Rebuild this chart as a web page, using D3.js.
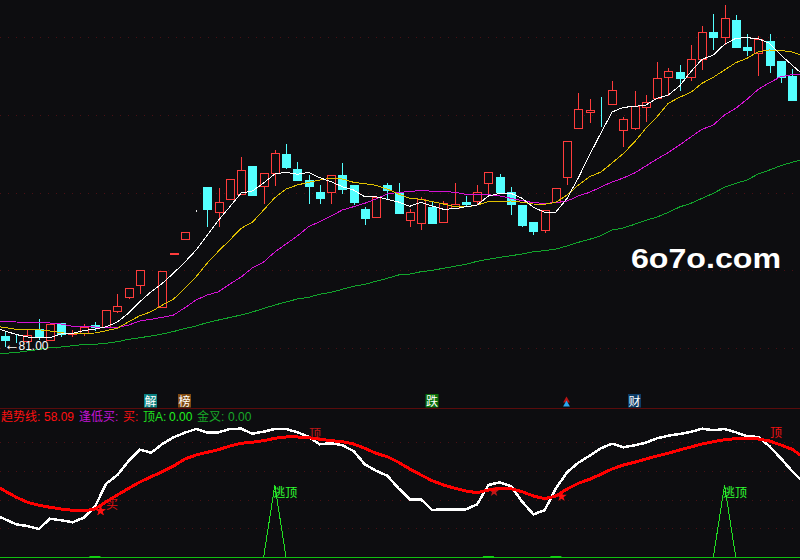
<!DOCTYPE html>
<html>
<head>
<meta charset="utf-8">
<script src="https://cdn.jsdelivr.net/npm/d3@7"></script>
<style>
  html, body { margin: 0; padding: 0; background: #0d0d10; }
  svg { display: block; }
  text { font-family: "Liberation Sans", "Noto Sans CJK SC", sans-serif; }
</style>
</head>
<body>
<svg id="chart"></svg>
<script>
// candle values, one entry per session
const open = [
  82.1, 81.85, 81.6, 82.8, 81.7, 83.4, 82.3, 82.4, 83.2, 83.0,
  84.6, 86.0, 87.2, 86.8, 85.0, 90.35, 91.8, 94.7, 97.0, 94.5,
  95.8, 96.3, 99.1, 97.1, 98.4, 100.3, 98.8, 97.7, 96.5, 96.5,
  98.2, 97.2, 94.8, 94.0, 97.2, 96.4, 93.7, 93.4, 95.0, 93.5,
  94.9, 95.5, 95.6, 97.4, 98.0, 96.5, 95.2, 93.5, 92.7, 95.5,
  98.0, 102.9, 104.5, 105.2, 105.3, 102.7, 102.9, 105.0, 105.9, 108.0,
  108.5, 108.0, 109.8, 112.5, 112.0, 113.7, 111.0, 110.4, 111.6, 109.6,
  108.1
];
const close = [
  81.7, 81.8, 82.2, 82.1, 83.3, 82.3, 82.4, 83.0, 83.0, 84.7,
  85.1, 86.9, 88.7, 86.8, 88.6, 90.45, 92.5, 94.7, 94.8, 95.5,
  97.8, 98.7, 96.2, 98.4, 100.4, 99.0, 97.7, 97.1, 95.9, 98.2,
  96.8, 95.5, 93.9, 96.0, 96.7, 94.4, 94.5, 95.8, 93.4, 95.4,
  95.3, 95.3, 96.5, 98.5, 96.5, 95.3, 93.2, 92.6, 94.7, 96.9,
  101.6, 104.8, 104.7, 105.15, 106.7, 103.8, 105.1, 105.5, 107.9, 108.6,
  107.9, 109.8, 112.5, 112.0, 113.9, 111.0, 110.7, 111.8, 109.2, 108.0,
  105.7
];
const high = [
  82.5, 82.2, 82.7, 83.8, 83.3, 83.4, 82.7, 83.3, 83.5, 84.7,
  86.3, 86.9, 88.7, 86.8, 88.6, 90.45, 92.5, 94.7, 97.0, 96.9,
  97.8, 100.0, 99.1, 98.4, 100.7, 101.3, 99.5, 98.2, 97.2, 98.2,
  99.4, 97.2, 95.0, 96.0, 97.4, 97.4, 94.8, 96.0, 95.6, 95.6,
  97.4, 96.1, 97.2, 98.5, 98.3, 97.0, 95.2, 93.5, 94.7, 96.9,
  101.6, 106.4, 105.8, 106.0, 107.6, 104.0, 106.6, 106.2, 109.5, 108.9,
  109.2, 111.2, 113.1, 114.3, 115.2, 114.2, 112.3, 112.1, 112.3, 109.6,
  108.8
];
const low = [
  81.0, 81.4, 81.6, 81.7, 81.7, 82.0, 82.0, 82.1, 82.6, 83.0,
  84.4, 85.8, 86.3, 86.8, 85.0, 90.35, 91.8, 94.5, 93.0, 93.0,
  95.8, 96.3, 96.2, 95.3, 97.1, 98.8, 97.7, 95.3, 95.3, 95.3,
  96.3, 95.2, 93.2, 94.0, 95.8, 94.4, 93.0, 92.7, 93.4, 93.5,
  94.9, 95.1, 95.3, 96.3, 96.4, 94.2, 93.0, 92.2, 92.4, 95.5,
  97.2, 102.9, 103.4, 103.0, 105.3, 101.0, 102.7, 103.5, 105.9, 106.1,
  106.6, 107.6, 108.7, 110.7, 111.2, 111.0, 110.1, 108.1, 108.4, 107.4,
  105.7
];

// moving averages: first and last entries sit just off the two edges
const ma5 = [
  83.0,
  82.6, 82.25, 82.0, 81.9, 81.93, 82.3, 82.37, 82.63, 82.8, 83.03,
  83.5, 84.4, 85.53, 86.53, 87.37, 88.4, 89.5, 90.7, 92.2, 93.7,
  95.03, 96.4, 96.6, 97.4, 98.3, 98.47, 98.27, 98.47, 97.93, 97.53,
  97.03, 96.7, 96.03, 96.03, 95.77, 95.5, 95.07, 95.47, 95.1, 94.77,
  94.83, 95.03, 95.2, 96.1, 96.37, 96.37, 95.87, 94.97, 94.47, 94.5,
  95.87, 97.93, 100.2, 102.4, 104.5, 104.97, 105.05, 105.2, 105.87, 106.2,
  107.1, 108.53, 109.77, 110.2, 111.27, 111.87, 111.93, 111.83, 111.37, 110.2,
  109.2,
  108.2
];
const ma10 = [
  83.1,
  82.95, 82.77, 82.73, 82.73, 82.6, 82.43, 82.3, 82.37, 82.4, 82.63,
  82.87, 83.53, 84.13, 84.53, 85.2, 85.8, 86.87, 88.03, 89.4, 90.6,
  91.7, 92.87, 93.47, 94.7, 95.93, 96.8, 97.2, 97.47, 97.7, 97.87,
  97.8, 97.47, 97.33, 97.17, 96.8, 96.3, 95.87, 95.77, 95.53, 95.3,
  95.03, 95.0, 95.2, 95.53, 95.57, 95.6, 95.47, 95.3, 95.27, 95.47,
  96.2, 97.2, 98.03, 98.5, 99.4, 100.35, 101.5, 102.87, 104.03, 105.37,
  105.97, 106.47, 107.37, 107.97, 108.7, 109.43, 109.87, 110.53, 110.7, 110.67,
  110.5,
  110.1
];
const ma20 = [
  83.57,
  83.57, 83.5, 83.47, 83.47, 83.4, 83.3, 83.07, 83.07, 83.0, 82.93,
  82.97, 83.2, 83.6, 83.77, 83.97, 84.2, 84.93, 85.7, 86.2, 86.53,
  87.3, 88.0, 88.9, 89.5, 90.5, 91.3, 92.1, 93.03, 93.53, 94.1,
  94.7, 95.03, 95.37, 95.8, 96.3, 96.47, 96.53, 96.67, 96.57, 96.57,
  96.47, 96.27, 96.27, 96.23, 96.1, 95.87, 95.63, 95.43, 95.37, 95.43,
  95.6, 96.1, 96.47, 97.0, 97.5, 97.9, 98.4, 99.1, 99.8, 100.45,
  101.2, 102.0, 102.77, 103.2, 104.2, 104.87, 105.77, 106.77, 107.43, 108.03,
  108.23,
  108.25
];
const ma60 = [
  80.3,
  80.37, 80.45, 80.6, 80.75, 80.95, 81.0, 81.13, 81.25, 81.27, 81.37,
  81.53, 81.77, 81.93, 82.1, 82.3, 82.55, 82.85, 83.1, 83.45, 83.7,
  83.95, 84.2, 84.5, 84.85, 85.2, 85.5, 85.8, 85.97, 86.27, 86.47,
  86.77, 87.07, 87.27, 87.57, 87.87, 88.2, 88.3, 88.53, 88.67, 88.87,
  89.07, 89.27, 89.57, 89.77, 89.97, 90.13, 90.3, 90.53, 90.63, 90.8,
  91.1, 91.47, 91.77, 92.13, 92.7, 92.9, 93.27, 93.67, 94.0, 94.47,
  95.0, 95.37, 95.87, 96.37, 96.97, 97.37, 97.7, 98.3, 98.7, 99.13,
  99.47,
  99.75
];

// lower panel
const fastLine = [
  30.3,
  26.6, 23.1, 21.9, 19.8, 27.0, 25.9, 24.5, 27.7, 35.4, 51.5,
  57.6, 67.4, 75.3, 73.2, 79.3, 84.0, 87.2, 89.8, 87.2, 87.5,
  89.8, 90.0, 86.5, 87.9, 89.8, 89.8, 87.5, 84.4, 79.1, 79.8,
  78.4, 74.4, 65.1, 60.6, 57.1, 48.3, 40.6, 40.6, 33.1, 33.6,
  33.6, 33.6, 37.1, 50.6, 52.5, 49.9, 38.9, 30.1, 32.9, 48.3,
  59.5, 66.2, 71.1, 76.3, 79.5, 77.0, 78.4, 80.2, 83.3, 85.1,
  86.3, 87.7, 90.0, 88.9, 89.8, 87.5, 84.7, 84.2, 77.7, 69.3,
  60.4,
  52.7
];
const trendLine = [
  50.6,
  46.4, 42.0, 38.5, 36.4, 35.0, 33.8, 32.9, 32.4, 33.8, 38.9,
  43.6, 48.3, 52.7, 56.4, 59.9, 63.9, 68.8, 71.6, 73.5, 75.3,
  77.9, 79.8, 80.5, 81.6, 83.3, 84.2, 84.2, 83.7, 82.6, 81.6,
  80.9, 79.3, 76.3, 72.8, 70.4, 66.5, 61.8, 57.6, 53.6, 50.6,
  48.3, 46.4, 45.2, 47.1, 48.3, 48.0, 45.9, 42.9, 41.0, 42.9,
  47.8, 51.8, 54.6, 58.1, 61.8, 64.6, 66.5, 68.8, 70.9, 72.8,
  75.1, 77.2, 79.3, 80.9, 82.3, 83.0, 82.8, 82.8, 81.4, 78.6,
  75.6,
  70.2
];

const priceGrid = [80.9, 88.7, 96.45, 104.2, 112];
const panelGrid = [20.3, 40.2, 60.4, 80.5];
const buySession = [8, 43, 49];          // short green bars on the zero line
const starSession = [8.5, 43.5, 49.5];   // buy stars
const starValue = [32.5, 46.0, 42.5];
const escapeSession = [[23, 24, 25], [63, 64, 65]];
const escapeValue = [[0, 50.5, 0], [0, 50.5, 0]];

const width = 800;
const height = 560;
const bg = "#0d0d10";
const redC = "#ff3c3c";
const cyanC = "#54ffff";

const x = d3.scaleLinear().domain([0, 70]).range([5, 792]);
const y = d3.scaleLinear().domain([81, 115.7]).range([347, 0]);
const y2 = d3.scaleLinear().domain([0, 100]).range([557.3, 414.4]);

const svg = d3.select("#chart")
  .attr("width", width)
  .attr("height", height)
  .attr("viewBox", [0, 0, width, height])
  .style("background", bg);

const px = v => Math.round(v) + 0.5;

function label(px_, py, text, color, size = 12) {
  return svg.append("text")
    .attr("x", px_).attr("y", py)
    .attr("fill", color)
    .attr("font-size", size)
    .text(text);
}

// grid
svg.append("g").selectAll("line")
  .data(priceGrid)
  .join("line")
  .attr("x1", 0).attr("x2", width)
  .attr("y1", d => px(y(d))).attr("y2", d => px(y(d)))
  .attr("stroke", "#4a1014")
  .attr("stroke-dasharray", "1 7");

svg.append("g").selectAll("line")
  .data(panelGrid)
  .join("line")
  .attr("x1", 0).attr("x2", width)
  .attr("y1", d => px(y2(d))).attr("y2", d => px(y2(d)))
  .attr("stroke", "#4a1014")
  .attr("stroke-dasharray", "1 7");

svg.append("line")
  .attr("x1", 0).attr("x2", width)
  .attr("y1", 408.5).attr("y2", 408.5)
  .attr("stroke", "#5a0c0c");

// candles
const candleColor = i => close[i] > open[i] ? redC : close[i] < open[i] ? cyanC : "#e8e8e8";
const candles = svg.append("g").attr("shape-rendering", "crispEdges")
  .selectAll("g")
  .data(d3.range(open.length))
  .join("g");

candles.append("line")
  .attr("x1", i => px(x(i))).attr("x2", i => px(x(i)))
  .attr("y1", i => y(high[i])).attr("y2", i => y(low[i]))
  .attr("stroke", candleColor);

candles.append("rect")
  .attr("x", i => px(x(i)) - 4)
  .attr("width", 8)
  .attr("y", i => px(y(Math.max(open[i], close[i]))))
  .attr("height", i => Math.round(Math.abs(y(open[i]) - y(close[i]))))
  .attr("fill", i => close[i] > open[i] ? bg : candleColor(i))
  .attr("stroke", candleColor);

// moving averages, index -1 is the off-screen point on the left
const line = (yScale) => d3.line().x((d, i) => x(i - 1)).y(d => yScale(d));

[[ma60, "#12a52c"], [ma20, "#d412d4"], [ma10, "#e0c000"], [ma5, "#ffffff"]].forEach(([values, color]) => {
  svg.append("path")
    .attr("d", line(y)(values))
    .attr("fill", "none")
    .attr("stroke", color)
    .attr("stroke-width", 1)
    .attr("shape-rendering", "crispEdges");
});

// lower panel
svg.append("line")
  .attr("x1", 0).attr("x2", width)
  .attr("y1", px(y2(0))).attr("y2", px(y2(0)))
  .attr("stroke", "#10c010");

svg.append("g").selectAll("rect")
  .data(buySession)
  .join("rect")
  .attr("x", d => x(d) - 5.5)
  .attr("width", 11)
  .attr("y", y2(0) - 1.3)
  .attr("height", 2)
  .attr("fill", "#12d012");

escapeSession.forEach((sessions, k) => {
  svg.append("path")
    .attr("d", d3.line().x(d => x(d)).y((d, i) => y2(escapeValue[k][i]))(sessions))
    .attr("fill", "none")
    .attr("stroke", "#22e022")
    .attr("shape-rendering", "crispEdges");
  svg.append("text")
    .attr("x", x(sessions[1]) - 1.5)
    .attr("y", y2(escapeValue[k][1]) + 11.5)
    .attr("fill", "#30ff30")
    .attr("font-size", 12)
    .text("逃顶");
});

// this one sits half under the two lines
label(309, 438, "顶", "#c01818");

svg.append("g").selectAll("path")
  .data(starSession)
  .join("path")
  .attr("d", d3.symbol().type(d3.symbolStar).size(34))
  .attr("transform", (d, i) => `translate(${x(d)},${y2(starValue[i])})`)
  .attr("fill", (d, i) => i == 1 ? "#c01818" : "#ff1010");

svg.append("path")
  .attr("d", line(y2)(fastLine))
  .attr("fill", "none")
  .attr("stroke", "#ffffff")
  .attr("stroke-width", 2.5)
  .attr("shape-rendering", "crispEdges");

svg.append("path")
  .attr("d", line(y2)(trendLine))
  .attr("fill", "none")
  .attr("stroke", "#ff0000")
  .attr("stroke-width", 3)
  .attr("shape-rendering", "crispEdges");

// first star stays on top of the lines in the reference
svg.append("path")
  .attr("d", d3.symbol().type(d3.symbolStar).size(34))
  .attr("transform", `translate(${x(starSession[0])},${y2(starValue[0])})`)
  .attr("fill", "#ff1010");

label(106, 509, "买", "#e01010");
label(770, 437, "顶", "#f01010");

// legend row
label(1, 421, "趋势线:", "#ff1010");
label(44, 421, "58.09", "#ff1010");
label(79, 421, "逢低买:", "#c414d8");
label(123, 421, "买:", "#ff1010");
label(143, 421, "顶A:", "#20e020");
label(169, 421, "0.00", "#20f020");
label(197, 421, "金叉:", "#18a828");
label(228, 421, "0.00", "#18a828");

// badges above the panel
const badgeText = ["解", "榜", "跌", "财"];
const badgeX = [150.5, 184.5, 432, 634.5];
const badgeFill = ["#0a7f80", "#7f4a12", "#0a700a", "#0e3c66"];
svg.append("g").selectAll("g")
  .data(badgeText)
  .join("g")
  .each(function (d, i) {
    const g = d3.select(this);
    g.append("rect")
      .attr("x", badgeX[i] - 6.5).attr("y", 394)
      .attr("width", 13).attr("height", 13.5)
      .attr("fill", badgeFill[i]);
    g.append("text")
      .attr("x", badgeX[i]).attr("y", 405.5)
      .attr("text-anchor", "middle")
      .attr("fill", "#ffffff")
      .attr("font-size", 12)
      .text(d);
  });

svg.append("path")
  .attr("d", d3.symbol().type(d3.symbolTriangle).size(20))
  .attr("transform", "translate(566.5,400.5)")
  .attr("fill", "#b81414");
svg.append("path")
  .attr("d", d3.symbol().type(d3.symbolTriangle).size(20))
  .attr("transform", "translate(566.5,404.5)")
  .attr("fill", "#2aa8f0");

// low price marker
label(4, 349.5, "←", "#ffffff", 16).attr("font-family", "DejaVu Sans");
label(18.5, 349.5, "81.00", "#ffffff");

// site mark
svg.append("text")
  .attr("x", 631)
  .attr("y", 268)
  .attr("fill", "#ffffff")
  .attr("font-family", "DejaVu Sans")
  .attr("font-weight", "bold")
  .attr("font-size", 27)
  .attr("textLength", 150)
  .attr("lengthAdjust", "spacingAndGlyphs")
  .text("6o7o.com");
</script>
</body>
</html>
